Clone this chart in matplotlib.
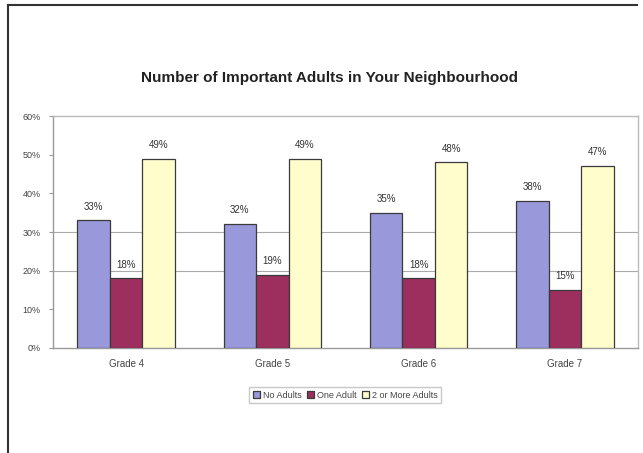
import numpy as np
import matplotlib.pyplot as plt
from matplotlib.lines import Line2D

plt.rcParams['font.family'] = ['Liberation Sans', 'DejaVu Sans']

grades = ['Grade 4', 'Grade 5', 'Grade 6', 'Grade 7']
no_adults = [33, 32, 35, 38]
one_adult = [18, 19, 18, 15]
two_or_more = [49, 49, 48, 47]
series_names = ['No Adults', 'One Adult', '2 or More Adults']
colors = ['#9898DA', '#9C2F5E', '#FFFDCC']

fig = plt.figure(figsize=(6.43, 4.53), dpi=100)
ax = fig.add_axes([0.0824, 0.2318, 0.9098, 0.5121])

x = np.arange(len(grades))
w = 0.222
for i, (vals, name, c) in enumerate(zip([no_adults, one_adult, two_or_more], series_names, colors)):
    vals = np.array(vals) / 100
    bars = ax.bar(x + (i - 1) * w, vals, w, color=c, edgecolor='#3a3a3a',
                  linewidth=0.9, label=name, zorder=3)
    for b, v in zip(bars, vals):
        ax.text(b.get_x() + b.get_width() / 2, v + 0.023, f'{round(v * 100)}%',
                ha='center', va='bottom', fontsize=7, color='#333333')

ax.set_xlim(-0.5, len(grades) - 0.5)
ax.set_ylim(0, 0.6)
ax.set_yticks(np.arange(0, 0.61, 0.1))
ax.set_yticklabels([f'{t}%' for t in range(0, 61, 10)], fontsize=6.5, color='#444444')
ax.set_xticks(x)
ax.set_xticklabels(grades, fontsize=7, color='#444444')
ax.tick_params(axis='x', length=0, pad=8)
ax.tick_params(axis='y', length=3, color='#999999', pad=6)
for y in [0.2, 0.3]:
    ax.axhline(y, color='#aaaaaa', linewidth=0.8, zorder=1)
for s in ax.spines.values():
    s.set_color('#bbbbbb')
    s.set_linewidth(1)
ax.spines['left'].set_color('#999999')
ax.spines['bottom'].set_color('#999999')

fig.text(0.513, 0.828, 'Number of Important Adults in Your Neighbourhood',
         ha='center', va='center', fontsize=11, fontweight='bold', color='#222222')

leg = fig.legend(loc='center', bbox_to_anchor=(0.537, 0.128), ncol=3, fontsize=6.5,
                 frameon=True, fancybox=False, edgecolor='#bbbbbb',
                 handlelength=0.8, handleheight=0.8, handletextpad=0.3,
                 columnspacing=0.6, borderpad=0.4)
for t in leg.get_texts():
    t.set_color('#444444')

# outer frame (top and left edges only)
fig.add_artist(Line2D([8 / 643, 8 / 643], [0, 1 - 5 / 453], transform=fig.transFigure,
                      color='#333333', linewidth=1.5))
fig.add_artist(Line2D([8 / 643, 637 / 643], [1 - 5 / 453, 1 - 5 / 453], transform=fig.transFigure,
                      color='#333333', linewidth=1.5))

fig.savefig('out.png', dpi=100)
